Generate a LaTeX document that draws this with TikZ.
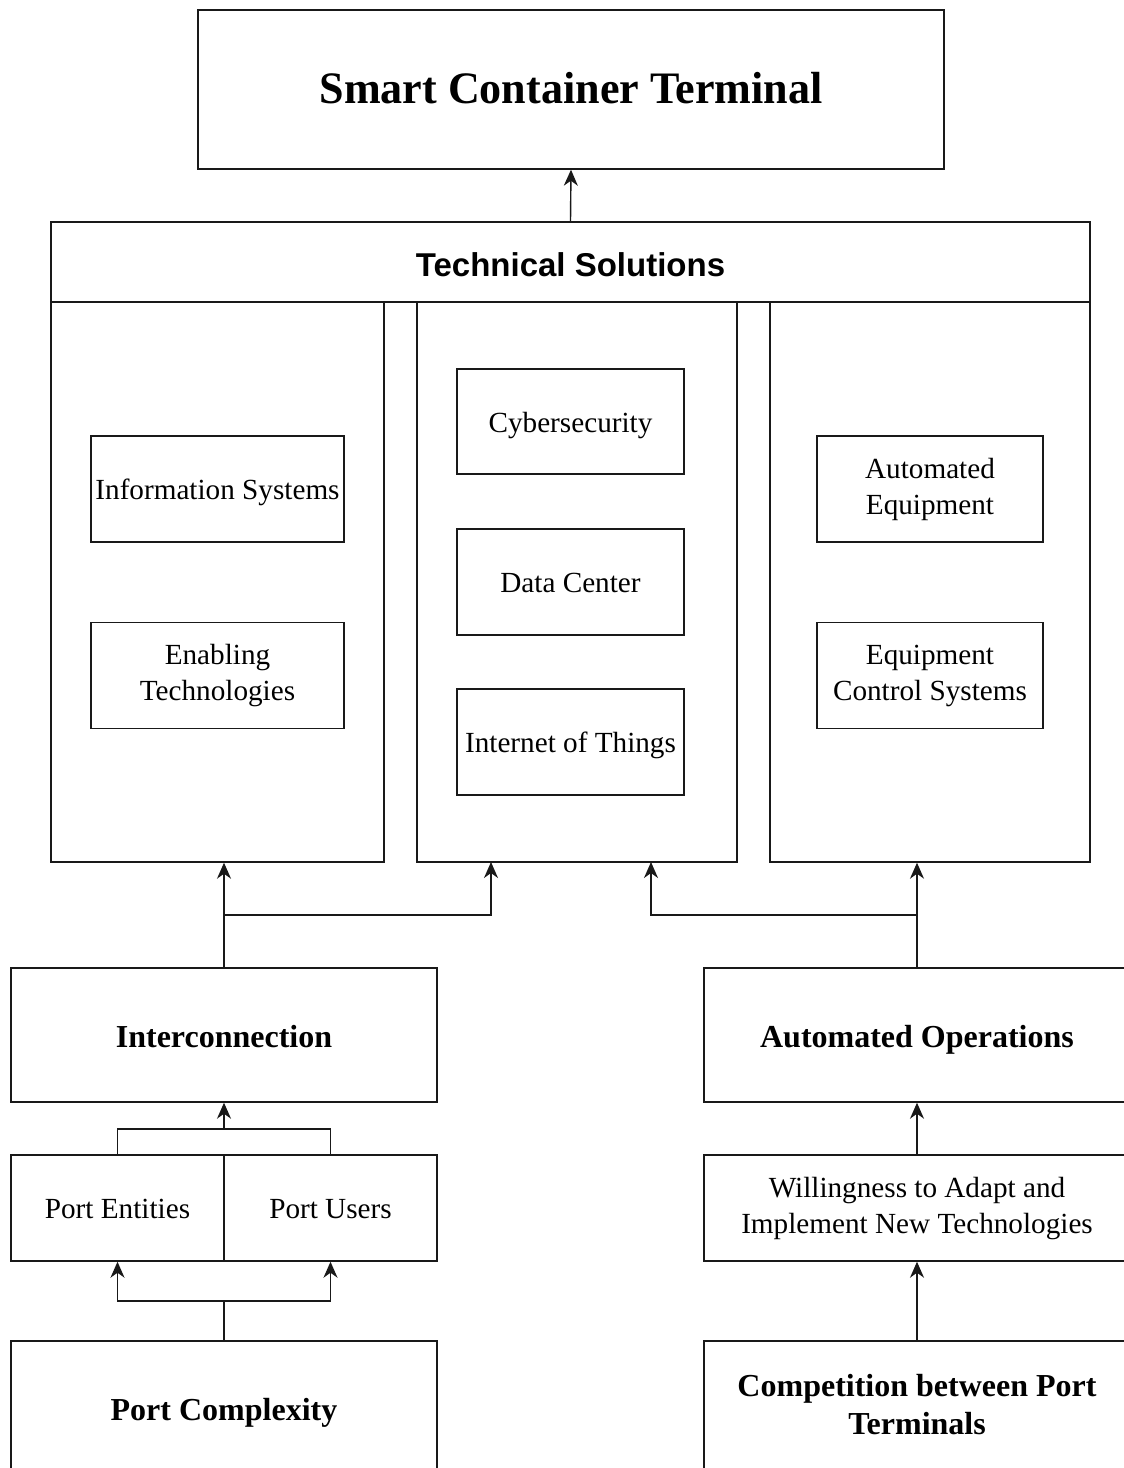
\documentclass[tikz,border=0pt]{standalone}
\usepackage{fontspec}
\setmainfont{Liberation Serif}
\newfontfamily\headsans{Liberation Sans}
\usetikzlibrary{arrows.meta}
% two centred lines, kept as one block so the node centres them as a unit
\newcommand\twolines[2]{\raisebox{-6pt}{\begin{tabular}{@{}c@{}}#1\\#2\end{tabular}}}
\begin{document}
\begin{tikzpicture}[x=1pt,y=-1pt,
  box/.style={draw=black!90, line width=1.4pt, inner sep=0pt, align=center,
    font=\fontsize{29.2}{36}\selectfont,
    execute at begin node={\rule[-0.3em]{0pt}{1.35em}},
    execute at end node={\rule[-0.3em]{0pt}{1.35em}}},
  boldbox/.style={box, font=\fontsize{32}{38}\selectfont\bfseries},
  frame/.style={draw=black!90, line width=1.4pt, inner sep=0pt},
  tip/.tip={Stealth[length=16pt,width=14pt,inset=5pt]},
  arr/.style={line width=1.4pt, draw=black!90, -tip},
  link/.style={line width=1.4pt, draw=black!90}]
\useasboundingbox (0,0) rectangle (1124,1468);
\clip (0,0) rectangle (1124,1468);

% top goal
\node[frame, align=center, minimum width=746, minimum height=159,
  font=\fontsize{45}{50}\selectfont\bfseries,
  execute at begin node={\rule[-0.3em]{0pt}{1.24em}}] (sct) at (571,89.5)
  {\scalebox{0.98}[1]{Smart Container Terminal}};

% technical solutions group
\node[frame, minimum width=1039, minimum height=80,
  font=\headsans\fontsize{33}{38}\selectfont\bfseries,
  execute at begin node={\rule[-0.3em]{0pt}{1.45em}}] (tech) at (570.5,262) {Technical Solutions};
\node[frame, minimum width=333, minimum height=560] (colL) at (217.5,582) {};
\node[frame, minimum width=320, minimum height=560] (colM) at (577,582) {};
\node[frame, minimum width=320, minimum height=560] (colR) at (930,582) {};

\node[box, minimum width=253, minimum height=106] (info) at (217.5,489) {Information Systems};
\node[box, minimum width=253, minimum height=106] (enab) at (217.5,675.5)
  {\twolines{Enabling}{Technologies}};

\node[box, minimum width=227, minimum height=105] (cyber) at (570.5,421.5) {Cybersecurity};
\node[box, minimum width=227, minimum height=106] (data) at (570.5,582) {Data Center};
\node[box, minimum width=227, minimum height=106] (iot) at (570.5,742) {Internet of Things};

\node[box, minimum width=226, minimum height=106] (autoeq) at (930,489)
  {\twolines{Automated}{Equipment}};
\node[box, minimum width=226, minimum height=106] (ecs) at (930,675.5)
  {\twolines{Equipment}{Control Systems}};

% drivers
\node[boldbox, minimum width=426, minimum height=134] (inter) at (224,1035) {Interconnection};
\node[boldbox, minimum width=426, minimum height=134] (autoop) at (917,1035) {Automated Operations};

\node[box, minimum width=213, minimum height=106] (pe) at (117.5,1208) {Port Entities};
\node[box, minimum width=213, minimum height=106] (pu) at (330.5,1208) {Port Users};
\node[box, minimum width=426, minimum height=106] (will) at (917,1208)
  {\twolines{Willingness to Adapt and}{Implement New Technologies}};

\node[boldbox, minimum width=426, minimum height=134] (pc) at (224,1408) {Port Complexity};
\node[boldbox, minimum width=426, minimum height=134] (comp) at (917,1408)
  {\twolines{Competition between Port}{Terminals}};

% junction points
\coordinate (j1) at (224,915);
\coordinate (mL) at (491,862);
\coordinate (j2) at (917,915);
\coordinate (mR) at (651,862);
\coordinate (j3) at (224,1129);
\coordinate (j4) at (224,1301);

% connectors
\draw[arr] (tech.north) -- (sct.south);

\draw[arr] (inter.north) -- (colL.south -| inter.north);
\draw[arr] (j1) -| (mL);

\draw[arr] (autoop.north) -- (colR.south -| autoop.north);
\draw[arr] (j2) -| (mR);

\draw[link] (pe.north) |- (j3);
\draw[link] (pu.north) |- (j3);
\draw[arr] (j3) -- (inter.south);

\draw[link] (pc.north) -- (j4);
\draw[arr] (j4) -| (pe.south);
\draw[arr] (j4) -| (pu.south);

\draw[arr] (will.north) -- (autoop.south);
\draw[arr] (comp.north) -- (will.south);
\end{tikzpicture}
\end{document}
